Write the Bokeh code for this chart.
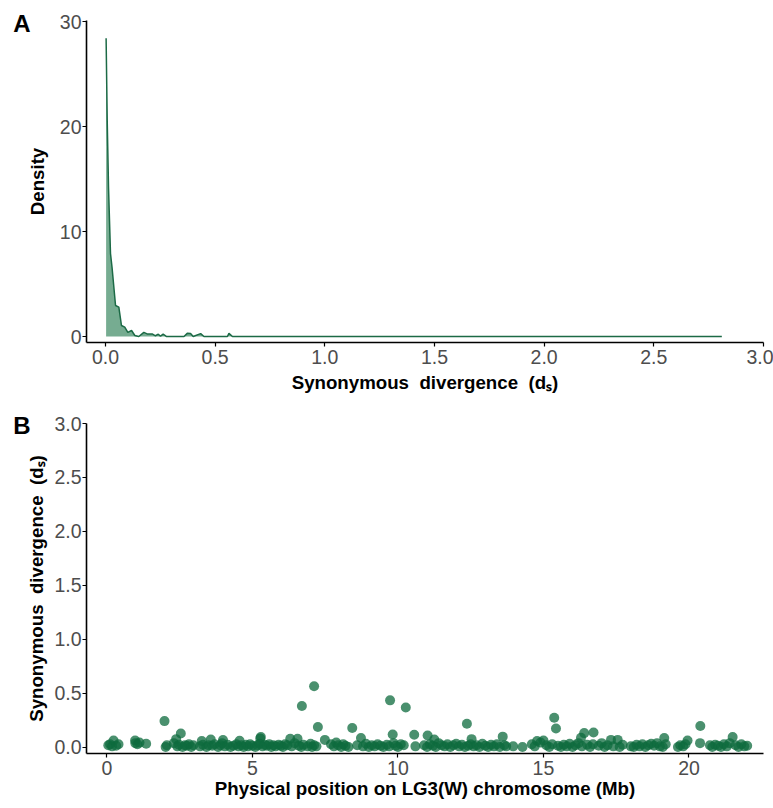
from bokeh.plotting import figure
from bokeh.layouts import column
from bokeh.models import Range1d, FixedTicker, PrintfTickFormatter, LinearAxis, CustomJSTickFormatter
from bokeh.embed import file_html
from bokeh.resources import INLINE

# ---- Panel A: density of synonymous divergence ----
dens_x = [0.003, 0.008, 0.014, 0.023, 0.030, 0.046, 0.061, 0.073, 0.088, 0.102, 0.119,
          0.134, 0.152, 0.175, 0.190, 0.213, 0.228, 0.241, 0.251, 0.263, 0.279, 0.358,
          0.373, 0.388, 0.400, 0.434, 0.449, 0.556, 0.563, 0.579, 2.81]
dens_y = [28.4, 20.6, 14.2, 7.9, 6.6, 2.95, 2.8, 1.05, 0.9, 0.4, 0.57,
          0.1, 0.0, 0.4, 0.25, 0.25, 0.07, 0.22, 0.03, 0.22, 0.0, 0.0,
          0.3, 0.28, 0.0, 0.28, 0.0, 0.0, 0.3, 0.0, 0.0]
a_xticks = [0.0, 0.5, 1.0, 1.5, 2.0, 2.5, 3.0]
a_yticks = [0, 10, 20, 30]

# ---- Panel B: ds along the chromosome ----
pos_mb = [0.05, 0.11, 0.18, 0.23, 0.32, 0.40, 0.97, 0.98, 1.05, 1.12, 1.35,
          1.98, 2.02, 2.06, 2.30, 2.38, 2.42, 2.48, 2.54, 2.60, 2.68, 2.75, 2.82, 2.90, 2.97,
          3.20, 3.26, 3.30, 3.42, 3.50, 3.57, 3.62, 3.70, 3.82, 3.90, 3.96, 3.99, 4.05, 4.15,
          4.25, 4.35, 4.45, 4.52, 4.56, 4.62, 4.70, 4.78, 4.85, 4.92, 5.00, 5.10, 5.18, 5.25,
          5.27, 5.29, 5.35, 5.42, 5.50, 5.58, 5.65, 5.72, 5.80, 5.90, 5.98, 6.05, 6.12, 6.20,
          6.30, 6.35, 6.45, 6.55, 6.60, 6.68, 6.70, 6.75, 6.90, 7.00, 7.05, 7.12, 7.12, 7.20,
          7.25, 7.49, 7.70, 7.80, 7.88, 7.95, 8.05, 8.12, 8.20, 8.30, 8.43, 8.60, 8.73, 8.80,
          8.90, 9.00, 9.10, 9.20, 9.30, 9.40, 9.50, 9.62, 9.70, 9.73, 9.82, 9.85, 9.92, 10.00,
          10.10, 10.20, 10.27, 10.56, 10.60, 10.90, 11.00, 11.02, 11.10, 11.20, 11.25, 11.30,
          11.40, 11.50, 11.60, 11.70, 11.80, 11.90, 12.00, 12.10, 12.20, 12.30, 12.37, 12.42,
          12.50, 12.53, 12.60, 12.70, 12.80, 12.90, 13.00, 13.10, 13.20, 13.30, 13.40, 13.50,
          13.60, 13.65, 13.72, 13.96, 14.28, 14.60, 14.70, 14.78, 14.90, 15.00, 15.10, 15.20,
          15.30, 15.37, 15.43, 15.50, 15.60, 15.70, 15.80, 15.90, 16.00, 16.10, 16.20, 16.29,
          16.32, 16.40, 16.50, 16.60, 16.70, 16.72, 16.90, 17.00, 17.10, 17.20, 17.32, 17.40,
          17.55, 17.62, 17.72, 18.00, 18.10, 18.20, 18.30, 18.40, 18.50, 18.60, 18.70, 18.80,
          18.90, 19.00, 19.10, 19.15, 19.20, 19.62, 19.70, 19.80, 19.88, 19.95, 20.38, 20.39,
          20.72, 20.80, 20.90, 21.00, 21.10, 21.20, 21.30, 21.40, 21.50, 21.60, 21.70, 21.80,
          21.90, 22.00]
ds = [0.020, 0.030, 0.010, 0.065, 0.015, 0.030, 0.065, 0.040, 0.030, 0.045, 0.035,
      0.244, 0.005, 0.020, 0.040, 0.077, 0.010, 0.025, 0.130, 0.005, 0.020, 0.015, 0.030, 0.005, 0.020,
      0.010, 0.060, 0.025, 0.005, 0.020, 0.074, 0.015, 0.030, 0.005, 0.020, 0.040, 0.068, 0.010, 0.025,
      0.005, 0.015, 0.030, 0.010, 0.062, 0.020, 0.005, 0.025, 0.010, 0.030, 0.015, 0.005, 0.020, 0.035,
      0.084, 0.096, 0.010, 0.025, 0.015, 0.030, 0.005, 0.020, 0.010, 0.025, 0.015, 0.005, 0.030, 0.020,
      0.080, 0.010, 0.040, 0.080, 0.015, 0.005, 0.384, 0.025, 0.010, 0.035, 0.005, 0.566, 0.020, 0.010,
      0.190, 0.070, 0.030, 0.010, 0.045, 0.020, 0.005, 0.030, 0.015, 0.005, 0.180, 0.020, 0.087, 0.010,
      0.035, 0.005, 0.020, 0.010, 0.030, 0.015, 0.005, 0.025, 0.010, 0.436, 0.120, 0.040, 0.015, 0.005,
      0.030, 0.020, 0.370, 0.118, 0.010, 0.020, 0.005, 0.110, 0.030, 0.015, 0.074, 0.005,
      0.040, 0.020, 0.010, 0.030, 0.005, 0.020, 0.035, 0.010, 0.025, 0.005, 0.220, 0.015,
      0.030, 0.077, 0.010, 0.020, 0.005, 0.035, 0.015, 0.005, 0.025, 0.010, 0.030, 0.005,
      0.100, 0.020, 0.010, 0.010, 0.005, 0.030, 0.010, 0.060, 0.045, 0.065, 0.020, 0.005,
      0.030, 0.275, 0.176, 0.015, 0.005, 0.025, 0.010, 0.035, 0.005, 0.020, 0.040, 0.090,
      0.010, 0.133, 0.025, 0.005, 0.030, 0.139, 0.015, 0.040, 0.005, 0.020, 0.070, 0.010,
      0.070, 0.005, 0.025, 0.010, 0.005, 0.025, 0.010, 0.030, 0.005, 0.020, 0.035, 0.015,
      0.040, 0.010, 0.005, 0.087, 0.030, 0.005, 0.020, 0.010, 0.030, 0.065, 0.040, 0.198,
      0.020, 0.005, 0.025, 0.015, 0.005, 0.030, 0.010, 0.040, 0.096, 0.020, 0.005, 0.030,
      0.010, 0.015]
b_xticks = [0, 5, 10, 15, 20]
b_yticks = [0.0, 0.5, 1.0, 1.5, 2.0, 2.5, 3.0]

GREEN = "#1c6a46"
FILL = "#76ac91"
PT = "#0e6b3e"
FONT = "Liberation Sans"
DS_LABEL = "Synonymous\u00a0 divergence\u00a0 (dₛ)"


def style(p):
    for ax in (p.xaxis, p.yaxis):
        ax.axis_line_color = "black"
        ax.axis_line_width = 1.6
        ax.major_tick_line_color = "black"
        ax.major_tick_line_width = 1.2
        ax.major_tick_out = 4
        ax.major_tick_in = 0
        ax.minor_tick_line_color = None
        ax.major_label_text_font = FONT
        ax.major_label_text_font_size = "19.5px"
        ax.major_label_text_color = "#4d4d4d"
        ax.axis_label_text_font = FONT
        ax.axis_label_text_font_size = "18.7px"
        ax.axis_label_text_font_style = "bold"
        ax.axis_label_text_color = "black"
    p.xaxis.major_label_standoff = 3
    p.yaxis.major_label_standoff = 1
    p.xgrid.visible = False
    p.ygrid.visible = False
    p.outline_line_color = None


def panel_letter(p, tick, letter):
    ax = LinearAxis(ticker=FixedTicker(ticks=[tick]),
                    formatter=CustomJSTickFormatter(code="return '%s';" % letter))
    ax.axis_line_color = None
    ax.major_tick_line_color = None
    ax.minor_tick_line_color = None
    ax.major_tick_out = 0
    ax.major_tick_in = 0
    ax.major_label_standoff = -7
    ax.major_label_text_font = FONT
    ax.major_label_text_font_size = "24px"
    ax.major_label_text_font_style = "bold"
    ax.major_label_text_color = "black"
    p.add_layout(ax, "left")


pA = figure(width=773, height=400, output_backend="svg", toolbar_location=None,
            x_range=Range1d(-0.0864, 3.0), y_range=Range1d(-0.57, 30.1),
            min_border_left=86, min_border_right=8, min_border_top=20, min_border_bottom=58)
style(pA)
pA.varea(x=dens_x, y1=[0] * len(dens_x), y2=dens_y, fill_color=FILL, fill_alpha=1.0)
pA.line(x=dens_x, y=dens_y, line_color=GREEN, line_width=1.5)
pA.xaxis.ticker = FixedTicker(ticks=a_xticks)
pA.xaxis.formatter = PrintfTickFormatter(format="%.1f")
pA.yaxis.ticker = FixedTicker(ticks=a_yticks)
pA.xaxis.axis_label = DS_LABEL
pA.yaxis.axis_label = "Density"
pA.xaxis.axis_label_standoff = 5
pA.yaxis.axis_label_standoff = 9
panel_letter(pA, 29.86, "A")

pB = figure(width=773, height=405, output_backend="svg", toolbar_location=None,
            x_range=Range1d(-0.70, 22.56), y_range=Range1d(-0.056, 3.0),
            min_border_left=86, min_border_right=10, min_border_top=23, min_border_bottom=52)
style(pB)
pB.scatter(x=pos_mb, y=ds, size=10, fill_color=PT, fill_alpha=0.75, line_color=None)
pB.xaxis.ticker = FixedTicker(ticks=b_xticks)
pB.yaxis.ticker = FixedTicker(ticks=b_yticks)
pB.yaxis.formatter = PrintfTickFormatter(format="%.1f")
pB.xaxis.axis_label = "Physical position on LG3(W) chromosome (Mb)"
pB.yaxis.axis_label = DS_LABEL
pB.xaxis.axis_label_standoff = 0
pB.yaxis.axis_label_standoff = 4
panel_letter(pB, 2.98, "B")

layout = column(pA, pB, spacing=0)
open("out.html", "w").write(file_html(layout, INLINE))
